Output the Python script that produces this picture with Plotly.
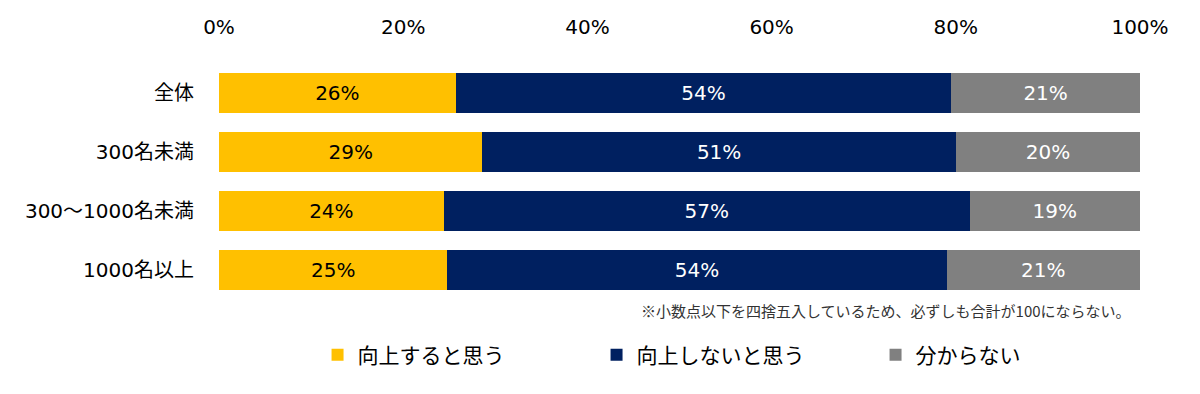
import plotly.graph_objects as go

categories = ["全体", "300名未満", "300〜1000名未満", "1000名以上"]
series_names = ["向上すると思う", "向上しないと思う", "分からない"]
yes_vals = [25.7, 28.6, 24.4, 24.8]
no_vals = [53.8, 51.4, 57.1, 54.2]
unk_vals = [20.5, 20.0, 18.5, 21.0]
x_ticks = [0, 20, 40, 60, 80, 100]
note = "※小数点以下を四捨五入しているため、必ずしも合計が100にならない。"

colors = ["#FFC000", "#002060", "#808080"]
text_colors = ["#000000", "#FFFFFF", "#FFFFFF"]
FONT = "DejaVu Sans, Noto Sans CJK JP, sans-serif"

fig = go.Figure()
for name, vals, c, tc in zip(series_names, [yes_vals, no_vals, unk_vals], colors, text_colors):
    fig.add_trace(go.Bar(
        y=categories, x=vals, name=name, orientation="h",
        marker=dict(color=c, line=dict(width=0)),
        texttemplate="%{x:.0f}%", textposition="inside",
        insidetextanchor="middle", constraintext="none", textangle=0,
        textfont=dict(size=20, color=tc, family=FONT),
        hoverinfo="skip",
    ))

fig.update_layout(
    width=1200, height=394,
    barmode="stack", bargap=0.325,
    paper_bgcolor="white", plot_bgcolor="white",
    margin=dict(l=219, r=60, t=63, b=94, autoexpand=False),
    font=dict(family=FONT, size=18, color="#000000"),
    showlegend=True,
    legend=dict(
        orientation="h", x=0.107, xanchor="left", y=-0.232, yanchor="middle",
        font=dict(size=21, family="Noto Sans CJK JP, sans-serif"),
        entrywidth=234, entrywidthmode="pixels", itemwidth=30,
        traceorder="normal",
    ),
    xaxis=dict(
        side="top", range=[0, 100], tickvals=x_ticks,
        ticktext=[f"{v}%" for v in x_ticks],
        showgrid=False, zeroline=False, showline=False,
        ticks="", ticklabelstandoff=24, fixedrange=True,
        tickfont=dict(size=20),
    ),
    yaxis=dict(
        categoryorder="array", categoryarray=categories, autorange="reversed",
        showgrid=False, zeroline=False, showline=False, ticks="",
        ticklabelstandoff=24, tickfont=dict(size=20), fixedrange=True,
    ),
    annotations=[dict(
        text=note, xref="paper", yref="paper", x=0.992, y=-0.046,
        xanchor="right", yanchor="middle", showarrow=False,
        font=dict(size=15, color="#333333", family="Noto Sans CJK JP, sans-serif"),
    )],
)

fig.write_html("out.html", config={"displayModeBar": False},
               post_script="document.body.style.margin='0px';")
